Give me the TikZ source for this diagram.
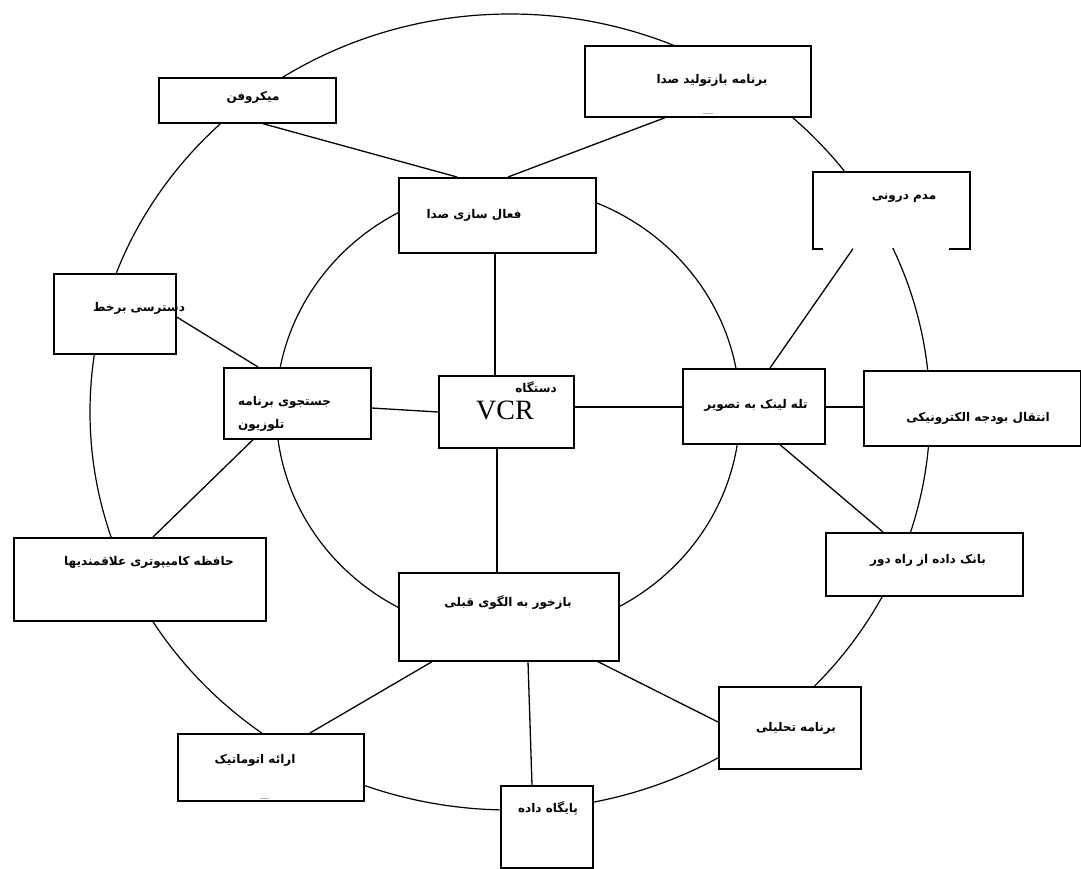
\documentclass[tikz,border=0pt]{standalone}
\usepackage{fontspec}
\setmainfont{Liberation Serif}
\newfontfamily\fa[Script=Arabic]{DejaVu Sans}
\TeXXeTstate=1
\usetikzlibrary{shapes.geometric}
\begin{document}
\begin{tikzpicture}[x=1pt,y=-1pt,
  ring/.style={draw, ellipse, inner sep=0pt, line width=1.2pt},
  box/.style={draw, fill=white, line width=1.7pt, inner sep=0pt, anchor=north west},
  txt/.style={font=\fa\bfseries\fontsize{12}{14}\selectfont, inner sep=0pt},
  link/.style={line width=1.3pt}]
\useasboundingbox (0,0) rectangle (1081,868);

% outer and inner rings
\node[ring, minimum width=840pt, minimum height=796pt] (outer) at (510,412) {};
\node[ring, minimum width=464pt, minimum height=448pt] (inner) at (508,410) {};

% boxes (top-left corner, size)
\node[box, minimum width=177pt, minimum height=45pt] (mic) at (158,77) {};
\node[box, minimum width=226pt, minimum height=71pt] (rep) at (584,45) {};
\node[box, minimum width=197pt, minimum height=75pt] (act) at (398,177) {};
\node[box, draw=none, minimum width=155pt, minimum height=75pt] (modem) at (813,172) {};
\node[box, minimum width=122pt, minimum height=80pt] (online) at (53,273) {};
\node[box, minimum width=147pt, minimum height=71pt] (search) at (223,367) {};
\node[box, minimum width=135pt, minimum height=72pt] (vcr) at (438,375) {};
\node[box, minimum width=142pt, minimum height=75pt] (tele) at (682,368) {};
\node[box, minimum width=217pt, minimum height=75pt] (eft) at (863,370) {};
\node[box, minimum width=252pt, minimum height=83pt] (mem) at (13,537) {};
\node[box, minimum width=197pt, minimum height=63pt] (bank) at (825,532) {};
\node[box, minimum width=220pt, minimum height=88pt] (fb) at (398,572) {};
\node[box, minimum width=142pt, minimum height=82pt] (ana) at (718,686) {};
\node[box, minimum width=186pt, minimum height=67pt] (auto) at (177,733) {};
\node[box, minimum width=92pt, minimum height=82pt] (db) at (500,785) {};

% modem box outline with the open bottom edge
\draw[line width=1.7pt] ([xshift=10pt]modem.south west) -- (modem.south west)
  -- (modem.north west) -- (modem.north east) -- (modem.south east)
  -- ([xshift=-21pt]modem.south east);

% small marks inside two boxes
\draw[gray!60, line width=1.2pt] ([xshift=119pt,yshift=4pt]rep.south west) -- ++(10pt,0);
\draw[gray!60, line width=1.2pt] ([xshift=83pt,yshift=3pt]auto.south west) -- ++(9pt,0);

% labels
\node[txt] (micT) at (253,97) {\beginR میکروفن\endR};
\node[txt] (repT) at (712,80) {\beginR برنامه بازتولید صدا\endR};
\node[txt] (actT) at (474,215) {\beginR فعال سازی صدا\endR};
\node[txt] (modemT) at (904,198) {\beginR مدم درونی\endR};
\node[txt] (onlineT) at (139,308) {\beginR دسترسی برخط\endR};
\node[txt, anchor=west] (searchT1) at (238,402) {\beginR جستجوی برنامه\endR};
\node[txt, anchor=west] (searchT2) at (238,425) {\beginR تلوزیون\endR};
\node[txt] (vcrT1) at (536,387) {\beginR دستگاه\endR};
\node[font=\fontsize{28}{30}\selectfont, inner sep=0pt] (vcrT2) at (505,410) {VCR};
\node[txt] (teleT) at (756,405) {\beginR تله لینک به تصویر\endR};
\node[txt] (eftT) at (978,418) {\beginR انتقال بودجه الکترونیکی\endR};
\node[txt] (memT) at (149,562) {\beginR حافظه کامیپوتری علاقمندیها\endR};
\node[txt] (bankT) at (928,560) {\beginR بانک داده از راه دور\endR};
\node[txt] (fbT) at (508,602) {\beginR بازخور به الگوی قبلی\endR};
\node[txt] (anaT) at (796,728) {\beginR برنامه تحلیلی\endR};
\node[txt] (autoT) at (255,760) {\beginR ارائه اتوماتیک\endR};
\node[txt] (dbT) at (548,808) {\beginR پایگاه داده\endR};

% connectors
\draw[link] ([xshift=105pt]mic.south west) -- ([xshift=59pt]act.north west);
\draw[link] ([xshift=81pt]rep.south west) -- ([xshift=110pt]act.north west);
\draw[link] ([xshift=97pt]act.south west) -- ([xshift=57pt]vcr.north west);
\draw[link] ([yshift=-44pt]online.north east) -- ([xshift=35pt]search.north west);
\draw[link] ([yshift=-41pt]search.north east) -- ([yshift=-37pt]vcr.north west);
\draw[link] ([yshift=-32pt]vcr.north east) -- ([yshift=-39pt]tele.north west);
\draw[link] ([yshift=-39pt]tele.north east) -- ([yshift=-37pt]eft.north west);
\draw[link] ([xshift=40pt]modem.south west) -- ([xshift=88pt]tele.north west);
\draw[link] ([xshift=98pt]tele.south west) -- ([xshift=58pt]bank.north west);
\draw[link] ([xshift=30pt]search.south west) -- ([xshift=140pt]mem.north west);
\draw[link] ([xshift=59pt]vcr.south west) -- ([xshift=99pt]fb.north west);
\draw[link] ([xshift=34pt]fb.south west) -- ([xshift=133pt]auto.north west);
\draw[link] ([xshift=130pt]fb.south west) -- ([xshift=32pt]db.north west);
\draw[link] ([xshift=200pt]fb.south west) -- ([yshift=-36pt]ana.north west);
\end{tikzpicture}
\end{document}
